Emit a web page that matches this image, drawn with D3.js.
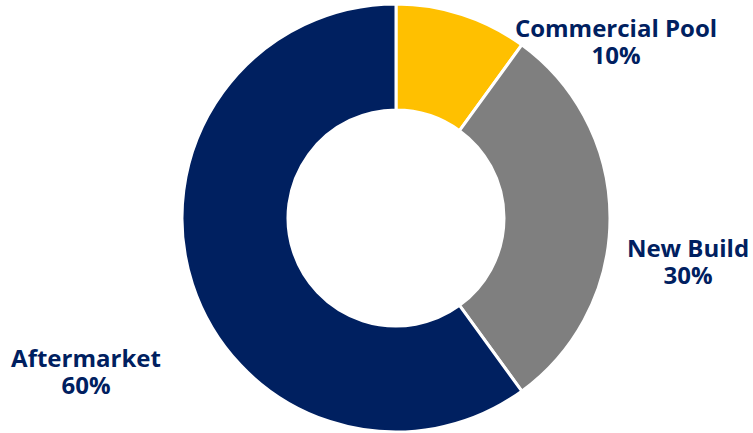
<!DOCTYPE html>
<html>
<head>
<meta charset="utf-8">
<script src="https://cdn.jsdelivr.net/npm/d3@7"></script>
<style>
  body { margin: 0; background: #fff; }
  svg { display: block; }
</style>
</head>
<body>
<svg id="chart"></svg>
<script>
const categories = ["Commercial Pool", "New Build", "Aftermarket"];
const values = [10, 30, 60];
const pctLabels = ["10%", "30%", "60%"];
const colors = ["#FFC000", "#7F7F7F", "#002060"];

const w = 753, h = 433;
const cx = 396, cy = 218;
const outerR = 214, innerR = 108;

const svg = d3.select("#chart").attr("width", w).attr("height", h);
const g = svg.append("g").attr("transform", `translate(${cx}, ${cy})`);

const pie = d3.pie().sort(null).value(d => d)(values);
const arc = d3.arc().innerRadius(innerR).outerRadius(outerR);

g.selectAll(".slice").data(pie).join("path")
  .attr("class", "slice")
  .attr("d", arc)
  .attr("fill", (d, i) => colors[i])
  .attr("stroke", "#fff")
  .attr("stroke-width", 3);

// label anchor positions (center of text block, first baseline)
const labelPos = [[616, 37], [688, 257], [86, 367]];
const lineGap = 27;

const labels = svg.selectAll(".lbl").data(categories).join("text")
  .attr("class", "lbl")
  .attr("text-anchor", "middle")
  .attr("font-family", "'Open Sans', Lato, sans-serif")
  .attr("font-weight", "bold")
  .attr("font-size", 24)
  .attr("fill", "#002060");

labels.append("tspan")
  .attr("x", (d, i) => labelPos[i][0])
  .attr("y", (d, i) => labelPos[i][1])
  .text(d => d);
labels.append("tspan")
  .attr("x", (d, i) => labelPos[i][0])
  .attr("y", (d, i) => labelPos[i][1] + lineGap)
  .text((d, i) => pctLabels[i]);
</script>
</body>
</html>
